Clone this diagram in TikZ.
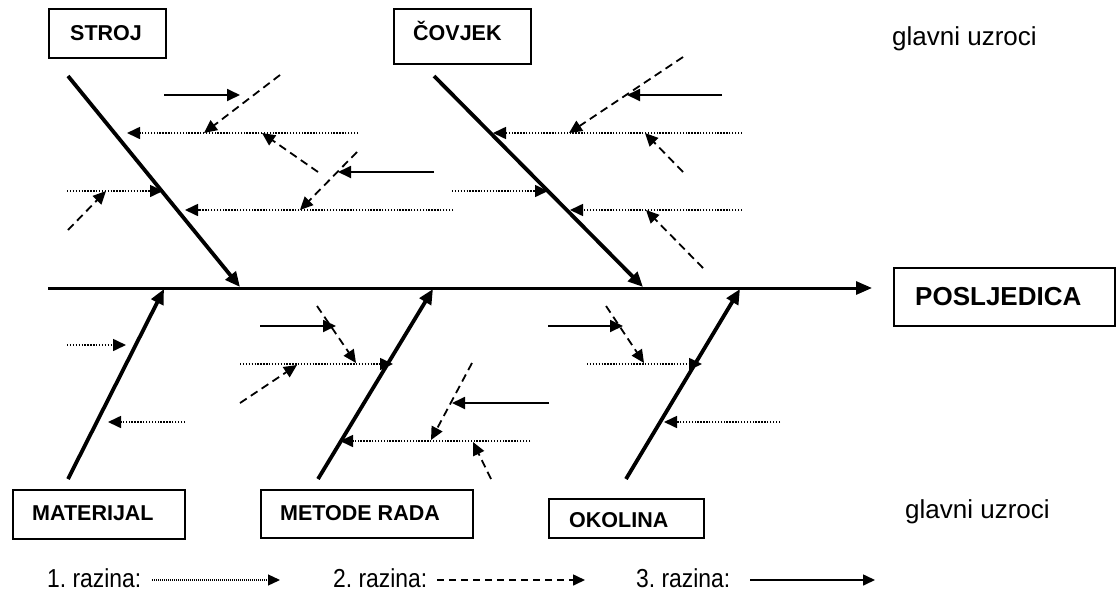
\documentclass[tikz,border=0pt]{standalone}
\usepackage{fontspec}
\setmainfont{Liberation Sans}
\usetikzlibrary{arrows.meta}
\tikzset{
  spine/.style={line width=3pt,-{Triangle[length=16pt,width=13pt]}},
  bone/.style={line width=3.8pt,-{Triangle[length=15pt,width=13pt]}},
  lvlone/.style={line width=1.6pt,dash pattern=on 1.4pt off 1.5pt,-{Triangle[length=13pt,width=12pt]}},
  lvltwo/.style={line width=1.8pt,dash pattern=on 8pt off 5pt,-{Triangle[length=13pt,width=12pt]}},
  lvlthree/.style={line width=1.8pt,-{Triangle[length=13pt,width=12pt]}},
  legone/.style={line width=1.3pt,dash pattern=on 1pt off 1pt,-{Triangle[length=12pt,width=11pt]}},
  legtwo/.style={line width=1.6pt,dash pattern=on 7pt off 5pt,-{Triangle[length=12pt,width=11pt]}},
  legthree/.style={line width=1.6pt,-{Triangle[length=12pt,width=11pt]}},
  box/.style={draw,line width=1.6pt,anchor=north west,inner sep=0pt},
  lbl/.style={anchor=base west,inner sep=0pt,font=\fontsize{21.5}{24}\selectfont\bfseries},
  txt/.style={anchor=base west,inner sep=0pt,font=\fontsize{26}{30}\selectfont},
}
\newcommand{\legtext}[1]{\scalebox{0.88}[1]{#1}}
\begin{document}
\frenchspacing
\begin{tikzpicture}[x=1pt,y=-1pt]
\useasboundingbox (0,0) rectangle (1117,592);
% boxes
\node[box,minimum width=117pt,minimum height=49pt] (strojbox) at (48,8) {};
\node[lbl] (stroj) at (70,40) {STROJ};
\node[box,minimum width=137pt,minimum height=55pt] (covjekbox) at (393,8) {};
\node[lbl] (covjek) at (413,40) {ČOVJEK};
\node[box,minimum width=172pt,minimum height=49pt] (matbox) at (12,489) {};
\node[lbl] (mat) at (32,520) {MATERIJAL};
\node[box,minimum width=212pt,minimum height=48pt] (metbox) at (260,489) {};
\node[lbl] (met) at (280,520) {METODE RADA};
\node[box,minimum width=155pt,minimum height=39pt] (okobox) at (548,498) {};
\node[lbl] (oko) at (569,527) {OKOLINA};
\node[box,minimum width=221pt,minimum height=58pt] (posbox) at (893,267) {};
\node[anchor=base west,inner sep=0pt,font=\fontsize{26}{30}\selectfont\bfseries] (pos) at (915,305) {POSLJEDICA};
\node[txt] (gu1) at (892,45) {glavni uzroci};
\node[txt] (gu2) at (905,518) {glavni uzroci};
% spine and bones
\draw[spine] (48,288) -- (872,288);
\draw[bone] (68,76) -- (240,287);
\draw[bone] (434,76) -- (643,287);
\draw[bone] (68,479) -- (164,289);
\draw[bone] (318,479) -- (433,289);
\draw[bone] (626,479) -- (740,289);
% top-left
\draw[lvlthree] (164,95) -- (240,95);
\draw[lvltwo] (280,75) -- (204,133);
\draw[lvlone] (358,133) -- (127,133);
\draw[lvltwo] (318,172) -- (262,133);
\draw[lvltwo] (357,152) -- (300,210);
\draw[lvlthree] (434,172) -- (338,172);
\draw[lvlone] (67,191) -- (163,191);
\draw[lvltwo] (68,230) -- (106,191);
\draw[lvlone] (453,210) -- (185,210);
% top-right
\draw[lvltwo] (683,57) -- (569,133);
\draw[lvlthree] (722,95) -- (627,95);
\draw[lvlone] (742,133) -- (493,133);
\draw[lvltwo] (683,172) -- (645,133);
\draw[lvlone] (452,191) -- (548,191);
\draw[lvlone] (742,210) -- (570,210);
\draw[lvltwo] (703,268) -- (646,210);
% bottom-left
\draw[lvlone] (67,345) -- (126,345);
\draw[lvlone] (185,422) -- (108,422);
% bottom-middle
\draw[lvlthree] (260,326) -- (336,326);
\draw[lvltwo] (317,306) -- (356,363);
\draw[lvlone] (240,364) -- (393,364);
\draw[lvltwo] (240,403) -- (297,365);
\draw[lvlone] (530,441) -- (340,441);
\draw[lvltwo] (472,363) -- (431,440);
\draw[lvlthree] (549,403) -- (452,403);
\draw[lvltwo] (491,479) -- (473,442);
% bottom-right
\draw[lvlthree] (548,326) -- (623,326);
\draw[lvltwo] (606,306) -- (644,363);
\draw[lvlone] (587,364) -- (702,364);
\draw[lvlone] (780,422) -- (664,422);
% legend
\node[txt] (l1) at (47,587) {\legtext{1. razina:}};
\node[txt] (l2) at (333,587) {\legtext{2. razina:}};
\node[txt] (l3) at (636,587) {\legtext{3. razina:}};
\draw[legone] (152,580) -- (280,580);
\draw[legtwo] (437,580) -- (585,580);
\draw[legthree] (750,580) -- (875,580);
\end{tikzpicture}
\end{document}
